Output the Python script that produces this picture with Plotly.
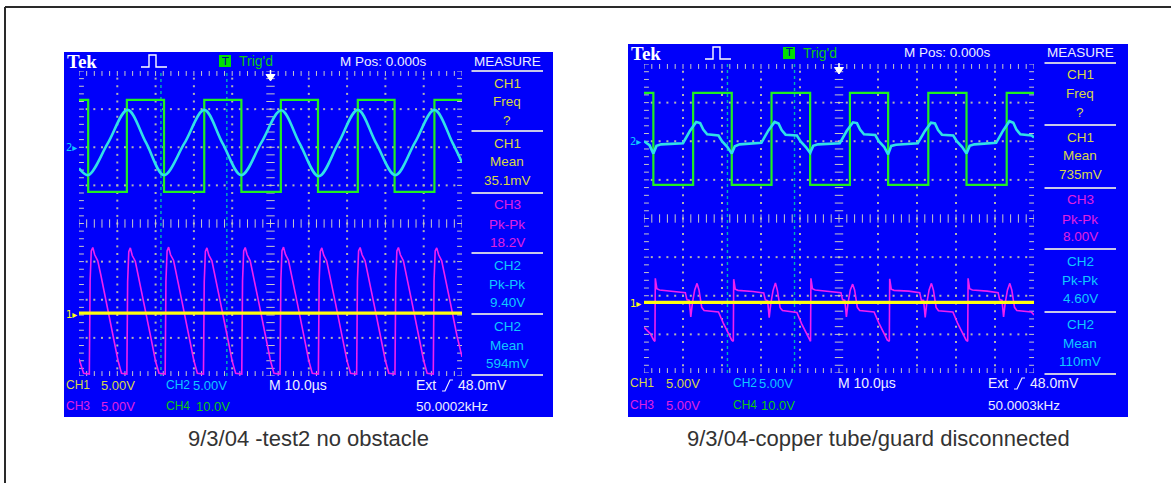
import plotly.graph_objects as go
import numpy as np

W, H = 1171, 483

# ---------------- data: time in µs from trigger, level in screen divisions ----------------
# Left capture: "9/3/04 -test2 no obstacle"
L_CH4_T = [-50, -47.6, -37.5, -27.8, -17.3, -7.6, 2.7, 12.4, 22.8, 32.4, 42.8, 50]
L_CH4_V = [3.24, 0.83, 3.24, 0.83, 3.24, 0.83, 3.24, 0.83, 3.24, 0.83, 3.24, 3.24]

L_CH2_T = [-50, -47.6, -42.5, -37.3, -32.5, -27.8, -22.5, -17.3, -12.5, -7.6, -2.4,
           2.8, 7.6, 12.6, 17.7, 22.8, 27.6, 32.6, 37.7, 42.8, 47.6, 50]
L_CH2_V = [1.45, 1.27, 2.10, 2.98, 2.12, 1.27, 2.10, 2.98, 2.10, 1.27, 2.12,
           2.97, 2.10, 1.24, 2.10, 2.98, 2.10, 1.27, 2.12, 2.98, 2.10, 1.60]

L_CH3_T = [-50.0, -48.8,
           -47.3, -47.1, -46.8, -46.4, -45.9, -45.1, -44.3, -42.8, -41.1, -39.8, -38.9, -37.6,
           -37.5, -37.3, -37.0, -36.6, -36.1, -35.3, -34.5, -33.0, -31.3, -30.0, -29.1, -27.6,
           -27.5, -27.3, -27.0, -26.6, -26.1, -25.3, -24.5, -23.0, -21.3, -20.0, -19.1, -17.6,
           -17.5, -17.3, -17.0, -16.6, -16.1, -15.3, -14.5, -13.0, -11.3, -10.0, -9.1, -7.6,
           -7.5, -7.3, -7.0, -6.6, -6.1, -5.3, -4.5, -3.0, -1.3, 0.0, 0.9, 2.4,
           2.5, 2.7, 3.0, 3.4, 3.9, 4.7, 5.5, 7.0, 8.7, 10.0, 10.9, 12.4,
           12.5, 12.7, 13.0, 13.4, 13.9, 14.7, 15.5, 17.0, 18.7, 20.0, 20.9, 22.4,
           22.5, 22.7, 23.0, 23.4, 23.9, 24.7, 25.5, 27.0, 28.7, 30.0, 30.9, 32.4,
           32.5, 32.7, 33.0, 33.4, 33.9, 34.7, 35.5, 37.0, 38.7, 40.0, 40.9, 42.4,
           42.5, 42.7, 43.0, 43.4, 43.9, 44.7, 45.5, 47.0, 48.7, 50.0]
L_CH3_V = [-3.55, -3.93,
           -3.95, -1.50, -0.72, -0.63, -0.82, -0.98, -1.35, -2.10, -2.95, -3.60, -3.93, -3.95,
           -3.95, -1.52, -0.74, -0.64, -0.84, -0.99, -1.36, -2.12, -2.96, -3.62, -3.93, -3.95,
           -3.95, -1.50, -0.72, -0.62, -0.82, -0.97, -1.34, -2.10, -2.95, -3.60, -3.93, -3.95,
           -3.95, -1.52, -0.73, -0.64, -0.83, -0.98, -1.35, -2.11, -2.95, -3.61, -3.93, -3.95,
           -3.95, -1.50, -0.72, -0.63, -0.82, -0.98, -1.35, -2.10, -2.95, -3.60, -3.93, -3.95,
           -3.95, -1.51, -0.71, -0.62, -0.81, -0.97, -1.34, -2.09, -2.94, -3.60, -3.93, -3.95,
           -3.95, -1.52, -0.73, -0.64, -0.83, -0.99, -1.36, -2.11, -2.96, -3.61, -3.93, -3.95,
           -3.95, -1.50, -0.72, -0.63, -0.82, -0.98, -1.35, -2.10, -2.95, -3.60, -3.93, -3.95,
           -3.95, -1.51, -0.72, -0.63, -0.82, -0.98, -1.35, -2.10, -2.95, -3.60, -3.93, -3.95,
           -3.95, -1.50, -0.72, -0.64, -0.82, -0.98, -1.35, -2.10, -2.95, -3.50]

L_CH1_T = [-50, 50]
L_CH1_V = [-2.35, -2.35]

# Right capture: "9/3/04-copper tube/guard disconnected"
R_CH4_T = [-50, -47.6, -37.4, -27.5, -17.3, -7.4, 2.8, 12.6, 22.9, 32.7, 43.0, 50]
R_CH4_V = [3.25, 0.87, 3.25, 0.87, 3.25, 0.87, 3.25, 0.87, 3.25, 0.87, 3.25, 3.25]

R_CH2_T = [-50.0, -48.6,
           -47.6, -46.8, -45.6, -40.0, -38.2, -36.6, -35.6, -34.8, -33.8, -30.9, -30.0, -28.6,
           -27.5, -26.7, -25.5, -19.9, -18.1, -16.5, -15.5, -14.7, -13.7, -10.8, -9.9, -8.5,
           -7.4, -6.6, -5.4, 0.2, 2.0, 3.6, 4.6, 5.4, 6.4, 9.3, 10.2, 11.6,
           12.6, 13.4, 14.6, 20.2, 22.0, 23.6, 24.6, 25.4, 26.4, 29.3, 30.2, 31.6,
           32.7, 33.5, 34.7, 40.3, 42.1, 43.7, 44.7, 45.5, 46.5, 49.4, 50.0]
R_CH2_V = [2.00, 1.90,
           1.68, 1.88, 1.92, 1.95, 2.27, 2.50, 2.47, 2.30, 2.18, 2.15, 2.00, 1.85,
           1.68, 1.87, 1.92, 1.96, 2.28, 2.50, 2.46, 2.29, 2.17, 2.15, 2.00, 1.85,
           1.70, 1.88, 1.92, 1.95, 2.27, 2.49, 2.47, 2.30, 2.18, 2.16, 2.00, 1.85,
           1.66, 1.88, 1.91, 1.95, 2.26, 2.48, 2.46, 2.29, 2.17, 2.15, 2.00, 1.85,
           1.68, 1.88, 1.92, 1.96, 2.28, 2.52, 2.48, 2.30, 2.18, 2.15, 2.10]

R_CH3_T = [-50.0, -48.4, -47.5,
           -47.2, -47.1, -46.7, -46.0, -42.2, -39.4, -39.0, -38.4, -38.0, -37.6, -37.0, -36.4, -35.9, -35.2, -34.6, -30.9, -29.7, -28.4, -27.5,
           -27.1, -27.0, -26.6, -25.9, -22.1, -19.3, -18.9, -18.3, -17.9, -17.5, -16.9, -16.3, -15.8, -15.1, -14.5, -10.8, -9.6, -8.3, -7.4,
           -7.3, -7.2, -6.8, -6.1, -2.3, 0.5, 0.9, 1.5, 1.9, 2.3, 2.9, 3.5, 4.0, 4.7, 5.3, 9.0, 10.2, 11.5, 12.4,
           12.9, 13.0, 13.4, 14.1, 17.9, 20.7, 21.1, 21.7, 22.1, 22.5, 23.1, 23.7, 24.2, 24.9, 25.5, 29.2, 30.4, 31.7, 32.6,
           33.0, 33.1, 33.5, 34.2, 38.0, 40.8, 41.2, 41.8, 42.2, 42.6, 43.2, 43.8, 44.3, 45.0, 45.6, 49.3, 50.0]
R_CH3_V = [-2.82, -2.98, -3.15,
           -3.18, -1.55, -1.82, -1.85, -1.88, -1.92, -2.10, -2.12, -2.55, -2.20, -1.85, -1.68, -1.85, -2.30, -2.38, -2.42, -2.70, -2.98, -3.15,
           -3.18, -1.57, -1.83, -1.86, -1.89, -1.93, -2.10, -2.13, -2.57, -2.21, -1.86, -1.67, -1.86, -2.31, -2.38, -2.43, -2.72, -2.99, -3.16,
           -3.18, -1.55, -1.82, -1.85, -1.88, -1.92, -2.10, -2.12, -2.55, -2.20, -1.85, -1.70, -1.85, -2.30, -2.38, -2.42, -2.70, -2.98, -3.15,
           -3.18, -1.56, -1.83, -1.86, -1.88, -1.92, -2.11, -2.12, -2.56, -2.20, -1.85, -1.68, -1.85, -2.30, -2.39, -2.42, -2.71, -2.98, -3.15,
           -3.18, -1.55, -1.82, -1.85, -1.88, -1.92, -2.10, -2.12, -2.55, -2.20, -1.85, -1.68, -1.85, -2.30, -2.38, -2.42, -2.50]

R_CH1_T = [-50, 50]
R_CH1_V = [-2.17, -2.17]

CURSOR_T = [-28.6, -11.4]

L_MEAS = [("CH1", "Freq", "?"), ("CH1", "Mean", "35.1mV"), ("CH3", "Pk-Pk", "18.2V"),
          ("CH2", "Pk-Pk", "9.40V"), ("CH2", "Mean", "594mV")]
R_MEAS = [("CH1", "Freq", "?"), ("CH1", "Mean", "735mV"), ("CH3", "Pk-Pk", "8.00V"),
          ("CH2", "Pk-Pk", "4.60V"), ("CH2", "Mean", "110mV")]
L_FREQ = "50.0002kHz"
R_FREQ = "50.0003kHz"
CAPTIONS = ["9/3/04 -test2 no obstacle", "9/3/04-copper tube/guard disconnected"]

# ---------------- styling ----------------
BLUE = "#0000fa"
YEL_T = "#d8d848"
MAG_T = "#e020e0"
CYN_T = "#10c8ff"
GRN_T = "#10c810"
WHITE_T = "#eeeeff"
C_GREEN = "#20f020"
C_CYAN = "#30e0e8"
C_MAG = "#f020f0"
C_YEL = "#ffff10"
SANS = "Liberation Sans, Arial, sans-serif"
CHCOL = {"CH1": YEL_T, "CH2": CYN_T, "CH3": MAG_T, "CH4": GRN_T}

for a, b in [(L_CH3_T, L_CH3_V), (L_CH2_T, L_CH2_V), (R_CH2_T, R_CH2_V), (R_CH3_T, R_CH3_V)]:
    assert len(a) == len(b), (len(a), len(b))

def X(p):
    return p / W

def Y(p):
    return 1 - p / H

fig = go.Figure()
shapes = []
anns = []

def txt(s, x, y, color, size=13, family=SANS, anchor="left"):
    anns.append(dict(text=s, x=X(x), y=Y(y), xref="paper", yref="paper", xanchor=anchor,
                     yanchor="middle", showarrow=False, borderpad=0,
                     font=dict(color=color, size=size, family=family)))

def line_px(x0, y0, x1, y1, color, width=1.5):
    shapes.append(dict(type="line", xref="paper", yref="paper", x0=X(x0), y0=Y(y0), x1=X(x1), y1=Y(y1),
                       line=dict(color=color, width=width), layer="above"))

def path_px(pts, color, width=1.5, fill=None, closed=False):
    d = "M " + " L ".join(f"{X(a):.5f},{Y(b):.5f}" for a, b in pts)
    if closed:
        d += " Z"
    shapes.append(dict(type="path", xref="paper", yref="paper", path=d,
                       line=dict(color=color, width=width), fillcolor=fill, layer="above"))

def add_line(xa, ya, t, v, color, width, shape="linear", dash=None):
    fig.add_trace(go.Scatter(x=t, y=v, xaxis=xa, yaxis=ya, mode="lines",
                             line=dict(color=color, width=width, shape=shape, dash=dash),
                             hoverinfo="skip", showlegend=False))

def add_marks(xa, ya, xs, ys, symbol, size, color, lw=1):
    fig.add_trace(go.Scatter(x=xs, y=ys, xaxis=xa, yaxis=ya, mode="markers",
                             marker=dict(symbol=symbol, size=size, color=color,
                                         line=dict(width=lw, color=color)),
                             hoverinfo="skip", showlegend=False))

def graticule(xa, ya):
    minor_t = np.arange(-50, 50.01, 2.0)
    minor_v = np.round(np.arange(-4, 4.001, 0.2), 2)
    major_t = [-40, -30, -20, -10, 10, 20, 30, 40]
    major_v = [-3, -2, -1, 1, 2, 3]
    xs, ys = [], []
    for t in major_t:
        for v in minor_v[1:-1]:
            xs.append(t); ys.append(v)
    for v in major_v:
        for t in minor_t[1:-1]:
            xs.append(t); ys.append(v)
    add_marks(xa, ya, xs, ys, "square", 2, "#b4b4b4", 0)
    add_marks(xa, ya, [0] * len(minor_v), list(minor_v), "line-ew", 6, "#c8c8c8")
    add_marks(xa, ya, list(minor_t), [0] * len(minor_t), "line-ns", 6, "#c8c8c8")
    add_marks(xa, ya, list(minor_t) * 2, [4] * len(minor_t) + [-4] * len(minor_t), "line-ns", 7, "#c8c8c8")
    add_marks(xa, ya, [-50] * len(minor_v) + [50] * len(minor_v), list(minor_v) * 2, "line-ew", 7, "#c8c8c8")

def scope(xa, ya, panel, grat, header_y, meas_seps, meas_cx, meas, freq, rows_y, cols, data, caption):
    bx0, by0, bx1, by1 = panel
    gx0, gy0, gx1, gy1 = grat
    shapes.append(dict(type="rect", xref="paper", yref="paper", x0=X(bx0), y0=Y(by1), x1=X(bx1), y1=Y(by0),
                       fillcolor=BLUE, line=dict(width=0), layer="below"))
    graticule(xa, ya)
    for ct in CURSOR_T:
        add_line(xa, ya, [ct, ct], [-4, 4], "#00b4b4", 1.4, dash="dot")
    ch4t, ch4v, ch3t, ch3v, ch2t, ch2v, ch2shape, ch1t, ch1v = data
    add_line(xa, ya, ch4t, ch4v, C_GREEN, 2.2, shape="hv")
    add_line(xa, ya, ch3t, ch3v, C_MAG, 1.6)
    add_line(xa, ya, ch2t, ch2v, C_CYAN, 2.6, shape=ch2shape)
    add_line(xa, ya, ch1t, ch1v, C_YEL, 3.2)

    # header
    txt("<b>Tek</b>", bx0 + 2, header_y + 1, "white", 19, "Liberation Serif, Times New Roman, serif")
    ox = bx0 + 77
    path_px([(ox, header_y + 6), (ox + 8, header_y + 6), (ox + 8, header_y - 6), (ox + 15, header_y - 6),
             (ox + 15, header_y + 6), (ox + 26, header_y + 6)], "white", 1.4)
    tb = bx0 + 155
    shapes.append(dict(type="rect", xref="paper", yref="paper", x0=X(tb), y0=Y(header_y + 6), x1=X(tb + 12),
                       y1=Y(header_y - 6), fillcolor="#00e000", line=dict(width=0), layer="above"))
    txt("T", tb + 6, header_y, "#0000a0", 11, "DejaVu Sans, sans-serif", "center")
    txt("Trig'd", tb + 19, header_y, GRN_T, 14)
    txt("M Pos: 0.000s", bx0 + 275, header_y, WHITE_T, 13.5)

    # trigger arrow at t=0
    cx = (gx0 + gx1) / 2
    path_px([(cx, gy0 - 1), (cx, gy0 + 4)], "white", 1.5)
    path_px([(cx - 4.5, gy0 + 3.5), (cx + 4.5, gy0 + 3.5), (cx, gy0 + 10)], "white", 1, fill="white", closed=True)

    # channel ground markers
    yscale = (gy1 - gy0) / 8.0
    txt("2▸", bx0 + 1, gy0 + (4 - 2) * yscale, CYN_T, 10, "DejaVu Sans, sans-serif")
    txt("1▸", bx0 + 1, gy0 + (4 - ch1v[0]) * yscale + 1, C_YEL, 10, "DejaVu Sans, sans-serif")

    # measure panel
    txt("MEASURE", meas_cx, header_y, WHITE_T, 13.5, anchor="center")
    mx0, mx1 = meas_cx - 35.5, meas_cx + 36
    for s in meas_seps:
        line_px(mx0, s, mx1, s, "#c8c8e8", 1.8)
    for (ch, name, val), s in zip(meas, meas_seps[:-1]):
        c = CHCOL[ch]
        txt(ch, meas_cx, s + 12, c, 13.5, anchor="center")
        txt(name, meas_cx, s + 31, c, 13.5, anchor="center")
        txt(val, meas_cx, s + 49, c, 13.5, anchor="center")

    # bottom readout
    r1, r2 = rows_y
    c_v1, c_ch2, c_v2, c_v4, c_m, c_ext = cols
    txt("CH1", bx0 + 1, r1, YEL_T, 12)
    txt("5.00V", bx0 + c_v1, r1, YEL_T, 13)
    txt("CH2", bx0 + c_ch2, r1, CYN_T, 12)
    txt("5.00V", bx0 + c_v2, r1, CYN_T, 13)
    txt("M 10.0\u00b5s", bx0 + c_m, r1, WHITE_T, 14)
    txt("Ext", bx0 + c_ext, r1, WHITE_T, 14)
    path_px([(bx0 + c_ext + 27, r1 + 6), (bx0 + c_ext + 30, r1 + 6), (bx0 + c_ext + 35, r1 - 5),
             (bx0 + c_ext + 38, r1 - 5)], WHITE_T, 1.2)
    txt("48.0mV", bx0 + c_ext + 42, r1, WHITE_T, 14)
    txt("CH3", bx0 + 1, r2, MAG_T, 12)
    txt("5.00V", bx0 + c_v1, r2, MAG_T, 13)
    txt("CH4", bx0 + c_ch2, r2, GRN_T, 12)
    txt("10.0V", bx0 + c_v4, r2, GRN_T, 13)
    txt(freq, bx0 + c_ext, r2, WHITE_T, 13.5)

    # caption
    txt(caption, (bx0 + bx1) / 2, 438, "#333333", 22, SANS, "center")


L_PANEL = (64, 52, 553, 417)
L_GRAT = (79, 71, 462, 376)
R_PANEL = (628, 44, 1128, 417)
R_GRAT = (644, 64, 1034, 373)

scope("x", "y", L_PANEL, L_GRAT, 61, [71, 131, 193, 253, 314, 375], 507, L_MEAS, L_FREQ, (385, 406),
      (36, 101, 128, 131, 204, 351),
      (L_CH4_T, L_CH4_V, L_CH3_T, L_CH3_V, L_CH2_T, L_CH2_V, "spline", L_CH1_T, L_CH1_V), CAPTIONS[0])
scope("x2", "y2", R_PANEL, R_GRAT, 53, [63, 125, 188, 249, 312, 374], 1080, R_MEAS, R_FREQ, (383, 405),
      (37, 104, 130, 132, 209, 359),
      (R_CH4_T, R_CH4_V, R_CH3_T, R_CH3_V, R_CH2_T, R_CH2_V, "linear", R_CH1_T, R_CH1_V), CAPTIONS[1])

# outer frame (left and top edges)
line_px(5, 7, 5, H + 2, "#2a2a2a", 2)
line_px(5, 7, W + 2, 7, "#2a2a2a", 2)

ax_common = dict(showgrid=False, zeroline=False, showticklabels=False, ticks="", showline=False, fixedrange=True)
fig.update_layout(
    width=W, height=H, margin=dict(l=0, r=0, t=0, b=0), autosize=False,
    paper_bgcolor="white", plot_bgcolor="black", showlegend=False,
    xaxis=dict(domain=[X(L_GRAT[0]), X(L_GRAT[2])], range=[-50, 50], anchor="y", **ax_common),
    yaxis=dict(domain=[Y(L_GRAT[3]), Y(L_GRAT[1])], range=[-4, 4], anchor="x", **ax_common),
    xaxis2=dict(domain=[X(R_GRAT[0]), X(R_GRAT[2])], range=[-50, 50], anchor="y2", **ax_common),
    yaxis2=dict(domain=[Y(R_GRAT[3]), Y(R_GRAT[1])], range=[-4, 4], anchor="x2", **ax_common),
    shapes=shapes, annotations=anns,
)

fig.write_html("out.html", config={"displayModeBar": False},
               post_script="document.body.style.margin='0px';document.body.style.overflow='hidden';")
